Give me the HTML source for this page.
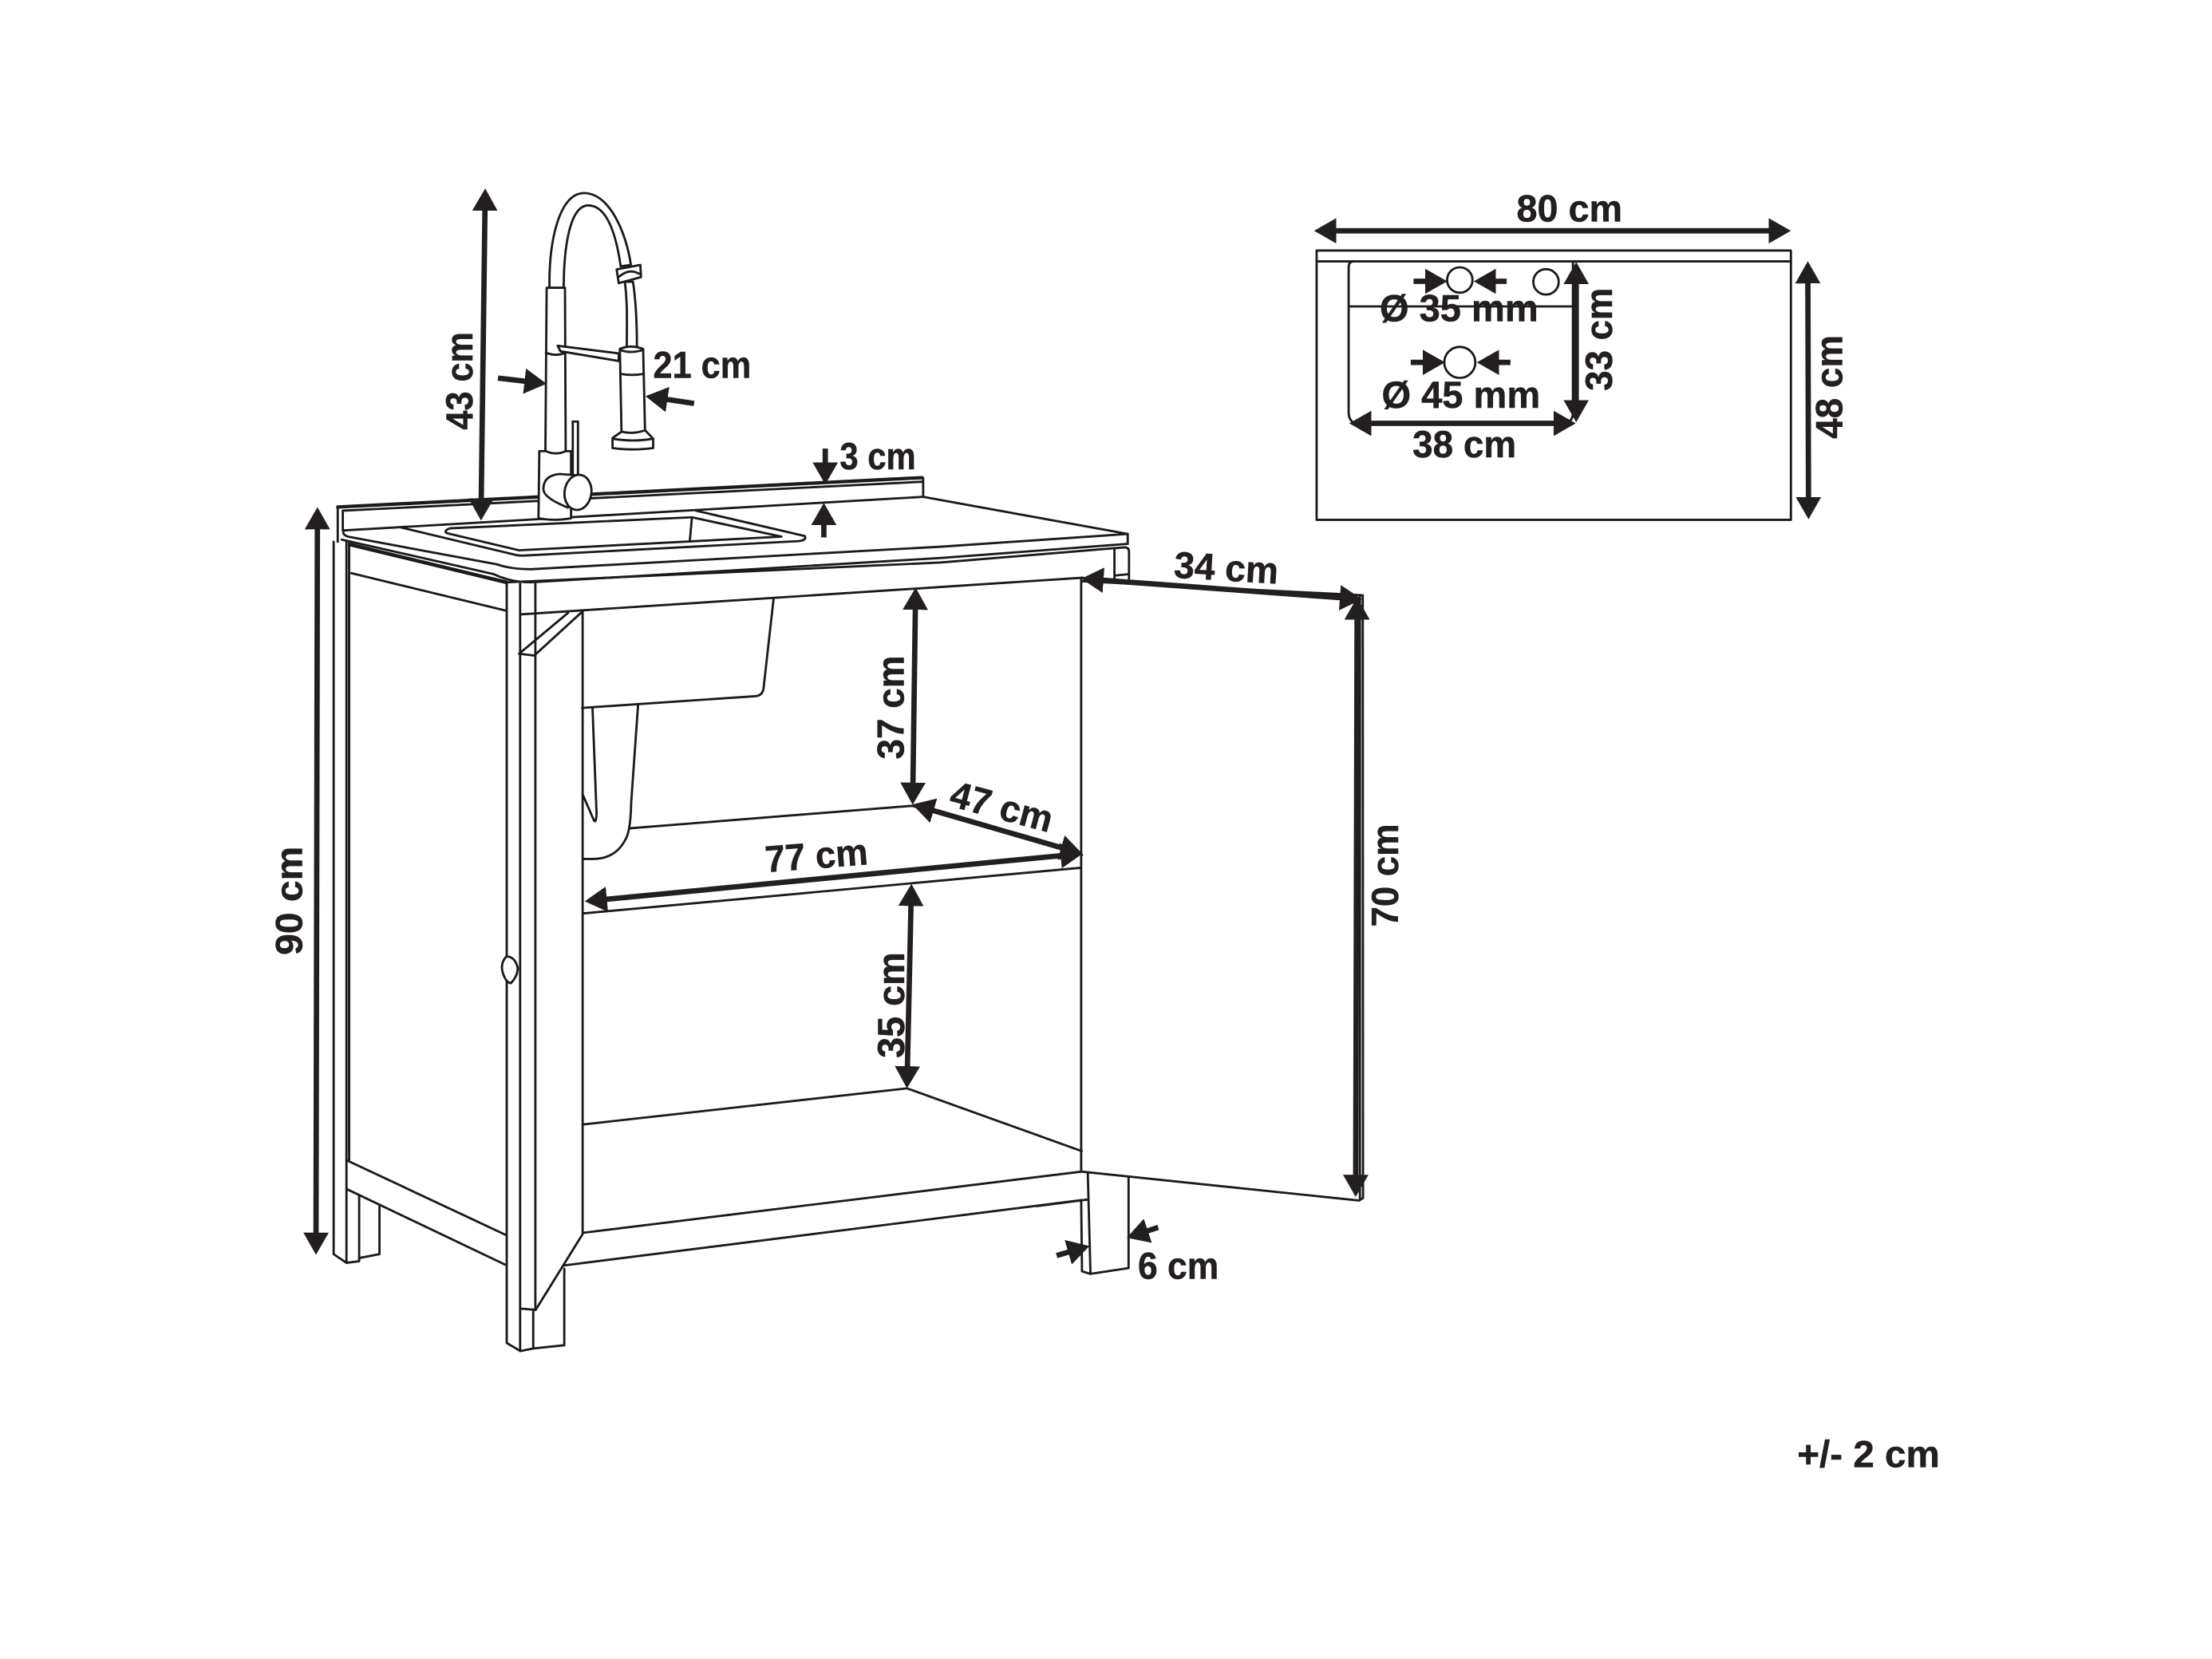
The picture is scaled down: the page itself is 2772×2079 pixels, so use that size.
<!DOCTYPE html>
<html><head><meta charset="utf-8"><style>
html,body{margin:0;padding:0;background:#fff}
svg{display:block}
.l{fill:none;stroke:#1a1a1a;stroke-width:1.6;stroke-linejoin:round;stroke-linecap:round}
.w{fill:#fff;stroke:#1a1a1a;stroke-width:1.6;stroke-linejoin:round}
.a{fill:none;stroke:#231f20;stroke-width:3.8;marker-end:url(#m)}
.b{fill:none;stroke:#231f20;stroke-width:3.8;marker-end:url(#m);marker-start:url(#m)}
text{font-family:"Liberation Sans",sans-serif;font-weight:bold;font-size:26.5px;fill:#231f20;stroke:#231f20;stroke-width:.3}
</style></head><body>
<svg width="2772" height="2079" viewBox="0 0 1568 1176" preserveAspectRatio="none" xmlns="http://www.w3.org/2000/svg">
<defs>
<marker id="m" markerUnits="userSpaceOnUse" markerWidth="18" markerHeight="18" refX="10" refY="8" orient="auto-start-reverse" viewBox="0 0 16 16"><path d="M0 0L14 8L0 16Z" fill="#231f20"/></marker>
</defs>
<rect width="1568" height="1176" fill="#fff"/>

<!-- countertop -->
<path class="l" style="stroke-width:2.4" d="M239.4 359.4L653.6 338.6"/>
<path class="l" d="M243 362L653.6 341.5M239.4 359.4V384M243 362V376M654.4 339V352.2"/>
<path class="l" d="M243.8 376L654.4 352.2L799.4 378.5V385.5"/>
<path class="l" d="M243.8 376Q242 379 247 380.5L352 400Q362 403.5 376.5 403.5L667.4 387.5L799.4 378.5"/>
<path class="l" d="M242.3 382.5L350 407Q362 412.8 376.5 412.8L667.4 395.5L799.4 385.5"/>
<path class="l" d="M359.2 412.8L667.4 398.7L797 388Q800.3 388 800.3 391V411"/>
<path class="l" d="M790 390V410M790 408L800.3 407"/>
<!-- sink rim -->
<path class="l" d="M284.2 373.9L364 393Q367 394 372 393.8L566 383.6Q572 383 570.5 380L493.4 362"/>
<path class="l" d="M318.8 374.5L490.5 366.7L554 380.4L367.9 390.1L317 378Q314 376.5 318.8 374.5M490.5 366.7L489 383.2"/>

<!-- left side -->
<path class="l" style="stroke-width:2.6" d="M248 386L359 412.8"/>
<path class="l" d="M236.5 384V889L245.6 895.2L254.6 894V848M245.6 384V895M247.5 384V822"/>
<path class="l" d="M249 406.3L359.2 433M245.6 822.4L359.2 875.7M245.6 842.8L359.2 897M254.6 891.8L269 889V855"/>
<!-- front post -->
<path class="l" d="M359.2 412.8V952L368.9 957.7L378 955.9L400 953.6V899.3"/>
<path class="l" d="M368.7 414V957.7M379.5 414V928.5M378 929V955.9M368.9 927.6L379.7 928.5"/>
<!-- upper rail -->
<path class="l" d="M369 435.5L767.7 409.5"/>
<!-- sink under -->
<path class="l" d="M548.4 424.2L541.2 488.3Q540.5 493 535.4 493.5L412.7 501.8"/>
<path class="l" d="M420 501.8L422.9 576.9Q422.5 584 421 581.5L413.3 563.7"/>
<path class="l" d="M452.3 499.6L447.4 569.3Q447 590 443 595.7Q436 608.9 420 608.9H413.3"/>
<!-- shelves -->
<path class="l" d="M446 587.2L646.5 571.2L767 606"/>
<path class="l" d="M413.3 647.5L766.3 615.1"/>
<path class="l" d="M414 797L643 771.5L766.8 816"/>
<path class="l" d="M414 873.8L766.8 830.5M400 897L766.8 850.7"/>
<!-- left door -->
<path class="l" d="M413 433.6V874.8L379.7 928.5"/>
<path class="l" d="M402.6 434.5L368 463.4L378.7 464.7L412.7 433.6"/>
<path class="w" d="M359 678Q355 682 356 688Q358 696 362 697Q367 692 367 686Q365 678 359 678Z"/>
<!-- right door and leg -->
<path class="l" d="M766.4 411V830.5"/>
<path class="l" d="M766.4 412L965.3 421.9M964 422V850.5M966 422L966.2 849.3L963.4 851L766.4 830.5"/>
<path class="l" d="M771.1 831.8L773 903L800 898.9V834.3M766.4 851.2L767 901.2L773 903M735 855L771.1 850.3"/>

<!-- faucet -->
<path class="w" d="M389.5 204C389 172 396 136.9 414 136.9C432 136.9 444 165 447.2 187.8L440 188.8C437 168 431 145.6 417 145.6C404 145.6 399.6 175 399.6 204Z"/>
<path class="w" d="M442.9 199.7C445 215 444.3 232 444.3 246H451.5C451.5 230 451 215 448.7 199.7Z"/>
<path class="w" d="M437.1 191L453.9 187.8L454.4 196.4L438.6 200.7Z"/>
<path class="l" d="M439 196Q446 190 453 194"/>
<path class="w" d="M387.5 204H400.5L401 322H386.6Z"/>
<path class="l" d="M387 250Q394 253 401 250"/>
<path class="w" d="M395.3 245.1L438.6 250.5V255.9L397.3 249Z"/>
<path class="w" d="M439.4 247.3Q447 244 455.9 247.3L457.3 307.9H440.6Z"/>
<path class="l" d="M439.8 265Q448 266.5 456.4 265M439.5 248Q447 251 455.9 248"/>
<path class="w" d="M440.6 306L434.2 310.5L434.2 317.6Q448 319.5 463 317.6L463 311L457.3 305Q449 308 440.6 306Z"/>
<path class="l" d="M434.5 311Q449 313.5 462.5 311"/>
<path class="w" d="M406 298.8H409.7V345H406Z"/>
<path class="w" d="M382.3 319.8H387Q394 323 401 319.8H404.8V367.4Q393 369.5 381.7 367.4Z"/>
<path class="w" d="M396.7 336Q385 337 385.2 347Q385.5 353 402.5 359.8L410 337Q404 336.5 396.7 336Z"/>
<ellipse class="w" cx="409.7" cy="349" rx="9.5" ry="12.5" transform="rotate(8 409.7 349)"/>

<!-- plan view -->
<rect class="l" x="933.3" y="177.6" width="336.2" height="190.9"/>
<path class="l" d="M933.3 185.3H1269.5"/>
<path class="l" d="M958 185.7Q956 186 956 190V292Q956 298 960 299.7H1111Q1115 298 1115 292V185.7M956 217.2H1115"/>
<ellipse class="l" cx="1034.8" cy="198.5" rx="9" ry="9"/>
<ellipse class="l" cx="1095.9" cy="199.8" rx="9" ry="9"/>
<ellipse class="l" cx="1034.8" cy="256.9" rx="11" ry="11"/>

<!-- arrows -->
<path class="b" d="M936 163.6H1265"/>
<path class="b" d="M1281.5 189.7L1282 363.6"/>
<path class="b" d="M1117.3 190.2V294.8"/>
<path class="b" d="M960.9 300.1H1112.5"/>
<path class="a" d="M1002 199.4H1021.4"/>
<path class="a" d="M1068 199.4H1049.2"/>
<path class="a" d="M1000 256.9H1019.8"/>
<path class="a" d="M1070.7 256.9H1051.4"/>
<path class="b" d="M343.9 138.1L341 364.5"/>
<path class="b" d="M225 364L224 885"/>
<path class="a" d="M353 268L383 271.5"/>
<path class="a" d="M492 286L462 281.5"/>
<path class="a" d="M585 318V339"/>
<path class="a" d="M584 381V361"/>
<path class="b" d="M771 410.5L961 424.5"/>
<path class="b" d="M962 428L961 844"/>
<path class="b" d="M649 421L647 566"/>
<path class="b" d="M651 571.5L763 604"/>
<path class="b" d="M419 638.5L763 605.5"/>
<path class="b" d="M646 631L643 767"/>
<path class="a" d="M749 890L768 884.5"/>
<path class="a" d="M821 870L803 876"/>

<!-- labels -->
<text x="1075" y="157" textLength="75" lengthAdjust="spacingAndGlyphs">80 cm</text>
<text x="978" y="227.7" textLength="112.4" lengthAdjust="spacingAndGlyphs">Ø 35 mm</text>
<text x="979.4" y="289" textLength="112.4" lengthAdjust="spacingAndGlyphs">Ø 45 mm</text>
<text x="1001.3" y="324.2" textLength="73.5" lengthAdjust="spacingAndGlyphs">38 cm</text>
<text transform="translate(1142.5 277) rotate(-90)" textLength="73" lengthAdjust="spacingAndGlyphs">33 cm</text>
<text transform="translate(1305.7 311) rotate(-90)" textLength="73.5" lengthAdjust="spacingAndGlyphs">48 cm</text>
<text transform="translate(335 304.6) rotate(-90)" textLength="69.2" lengthAdjust="spacingAndGlyphs">43 cm</text>
<text x="463" y="267.8" textLength="69.4" lengthAdjust="spacingAndGlyphs">21 cm</text>
<text x="595.3" y="332.7" textLength="53.9" lengthAdjust="spacingAndGlyphs">3 cm</text>
<text transform="translate(214 677) rotate(-90)" textLength="77" lengthAdjust="spacingAndGlyphs">90 cm</text>
<text transform="translate(640.7 538.2) rotate(-90)" textLength="73.5" lengthAdjust="spacingAndGlyphs">37 cm</text>
<text transform="translate(672 571) rotate(15)" textLength="74" lengthAdjust="spacingAndGlyphs">47 cm</text>
<text transform="translate(543 618.3) rotate(-4.4)" textLength="73" lengthAdjust="spacingAndGlyphs">77 cm</text>
<text transform="translate(641 750) rotate(-90)" textLength="75" lengthAdjust="spacingAndGlyphs">35 cm</text>
<text transform="translate(831.8 409.4) rotate(3.4)" textLength="74" lengthAdjust="spacingAndGlyphs">34 cm</text>
<text transform="translate(991 657) rotate(-90)" textLength="73" lengthAdjust="spacingAndGlyphs">70 cm</text>
<text x="806.6" y="906.5" textLength="57.3" lengthAdjust="spacingAndGlyphs">6 cm</text>
<text x="1274" y="1040" textLength="101" lengthAdjust="spacingAndGlyphs">+/- 2 cm</text>
</svg>
</body></html>
